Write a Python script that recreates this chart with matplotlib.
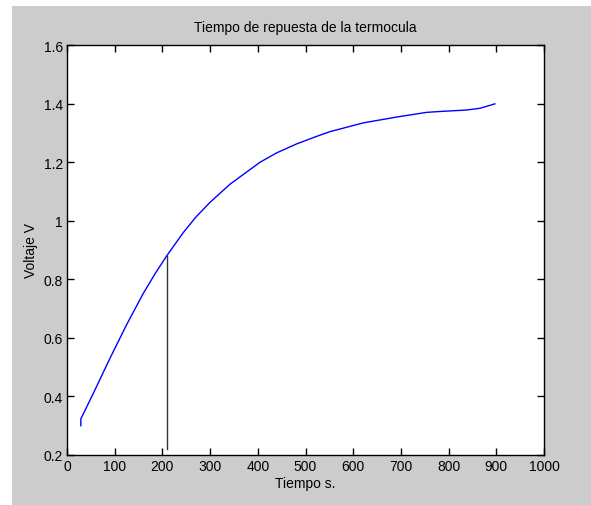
import matplotlib
matplotlib.use("Agg")
import matplotlib.pyplot as plt
from matplotlib.patches import Rectangle

# thermocouple response
tiempo = [29, 29, 55, 90, 125, 160, 185, 209, 244, 270, 300, 342, 405,
          440, 481, 520, 551, 621, 691, 754, 782, 838, 866, 897]
voltaje = [0.300, 0.323, 0.410, 0.530, 0.645, 0.752, 0.820, 0.880, 0.960,
           1.012, 1.063, 1.125, 1.200, 1.232, 1.262, 1.286, 1.304, 1.334,
           1.354, 1.370, 1.373, 1.378, 1.384, 1.399]

# marker line at the 63% point
t_marca = 210
v_marca = [0.222, 0.878]

plt.rcParams['font.family'] = ['Liberation Sans', 'DejaVu Sans']

fig = plt.figure(figsize=(5.91, 5.06), dpi=100, facecolor='white')
# grey matlab-style figure panel, offset from the top/left edges
fig.patches.append(Rectangle((12 / 591, 0), 1, (506 - 7) / 506,
                             transform=fig.transFigure, facecolor='#cccccc',
                             edgecolor='none', zorder=-1))

ax = fig.add_axes([67 / 591, 50 / 506, 477 / 591, 410 / 506])
ax.plot(tiempo, voltaje, color='#0000ff', lw=1)
ax.plot([t_marca, t_marca], v_marca, color='#333333', lw=1)

ax.set_xlim(0, 1000)
ax.set_ylim(0.2, 1.6)
ax.set_xticks(range(0, 1001, 100))
ax.set_yticks([0.2, 0.4, 0.6, 0.8, 1.0, 1.2, 1.4, 1.6])
ax.set_yticklabels(['0.2', '0.4', '0.6', '0.8', '1', '1.2', '1.4', '1.6'])
ax.tick_params(direction='in', length=5, width=1, top=True, right=True,
               labelsize=10, pad=3, colors='black')
for s in ax.spines.values():
    s.set_linewidth(1)
    s.set_color('black')

ax.set_title('Tiempo de repuesta de la termocula', fontsize=10, pad=10)
ax.set_xlabel('Tiempo s.', fontsize=10, labelpad=2)
ax.set_ylabel('Voltaje V', fontsize=10, labelpad=4)

fig.savefig('out.png', dpi=100, facecolor=fig.get_facecolor())
